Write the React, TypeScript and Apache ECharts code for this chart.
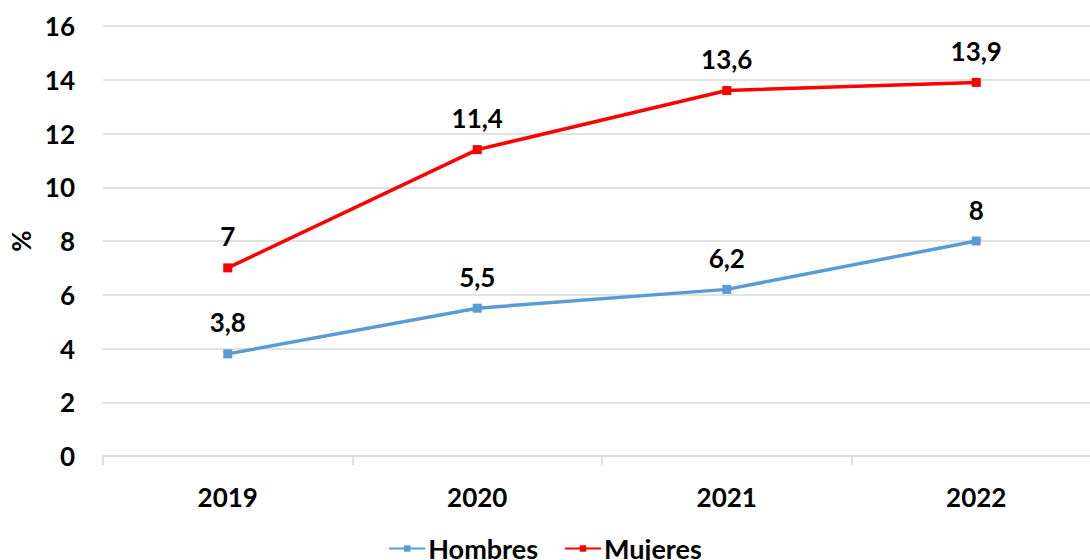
import React, { useEffect, useRef } from "react";
import * as echarts from "echarts";

const years = ["2019", "2020", "2021", "2022"];
const hombres = [3.8, 5.5, 6.2, 8];
const mujeres = [7, 11.4, 13.6, 13.9];
const seriesNames = ["Hombres", "Mujeres"];

const FONT = "Lato";

export default function App() {
  const ref = useRef<HTMLDivElement>(null);
  useEffect(() => {
    const chart = echarts.init(ref.current!, null, { renderer: "svg" });
    const labelStyle = {
      show: true,
      position: "top" as const,
      distance: 14,
      color: "#000",
      fontFamily: FONT,
      fontWeight: "bold" as const,
      fontSize: 26,
      formatter: (p: any) => String(p.value).replace(".", ","),
    };
    chart.setOption({
      animation: false,
      backgroundColor: "#fff",
      grid: { left: 103, right: -11, top: 26, bottom: 104, outerBoundsMode: "none", containLabel: false },
      legend: {
        bottom: -7,
        left: "center",
        itemWidth: 36,
        itemHeight: 8,
        itemGap: 26,
        textStyle: { fontFamily: FONT, fontWeight: "bold", fontSize: 27, color: "#000", padding: [0, 0, 0, -2] },
        data: seriesNames,
      },
      xAxis: {
        type: "category",
        data: years,
        boundaryGap: true,
        axisLine: { lineStyle: { color: "#d9d9d9", width: 1.5 } },
        axisTick: { show: true, length: 9, lineStyle: { color: "#d9d9d9", width: 1.5 } },
        axisLabel: { color: "#000", fontFamily: FONT, fontWeight: "bold", fontSize: 26, margin: 28 },
      },
      yAxis: {
        type: "value",
        min: 0,
        max: 16,
        interval: 2,
        name: "%",
        nameLocation: "middle",
        nameGap: 69,
        nameTextStyle: { color: "#000", fontFamily: FONT, fontWeight: "bold", fontSize: 26 },
        axisLine: { show: false },
        axisTick: { show: false },
        splitLine: { lineStyle: { color: "#d9d9d9", width: 1.5 } },
        axisLabel: { color: "#000", fontFamily: FONT, fontWeight: "bold", fontSize: 26, margin: 28 },
      },
      series: [
        {
          name: seriesNames[0],
          type: "line",
          data: hombres,
          color: "#5B9BD5",
          lineStyle: { width: 3.5, color: "#5B9BD5" },
          symbol: "rect",
          symbolSize: 9,
          itemStyle: { color: "#5B9BD5" },
          label: labelStyle,
        },
        {
          name: seriesNames[1],
          type: "line",
          data: mujeres,
          color: "#FF0000",
          lineStyle: { width: 3.5, color: "#FF0000" },
          symbol: "rect",
          symbolSize: 9,
          itemStyle: { color: "#FF0000" },
          label: labelStyle,
        },
      ],
    });
    return () => chart.dispose();
  }, []);
  return (
    <div style={{ position: "absolute", left: 0, top: 0, width: 1090, height: 560, overflow: "hidden" }}>
      <div ref={ref} style={{ width: 1090, height: 560 }} />
    </div>
  );
}
